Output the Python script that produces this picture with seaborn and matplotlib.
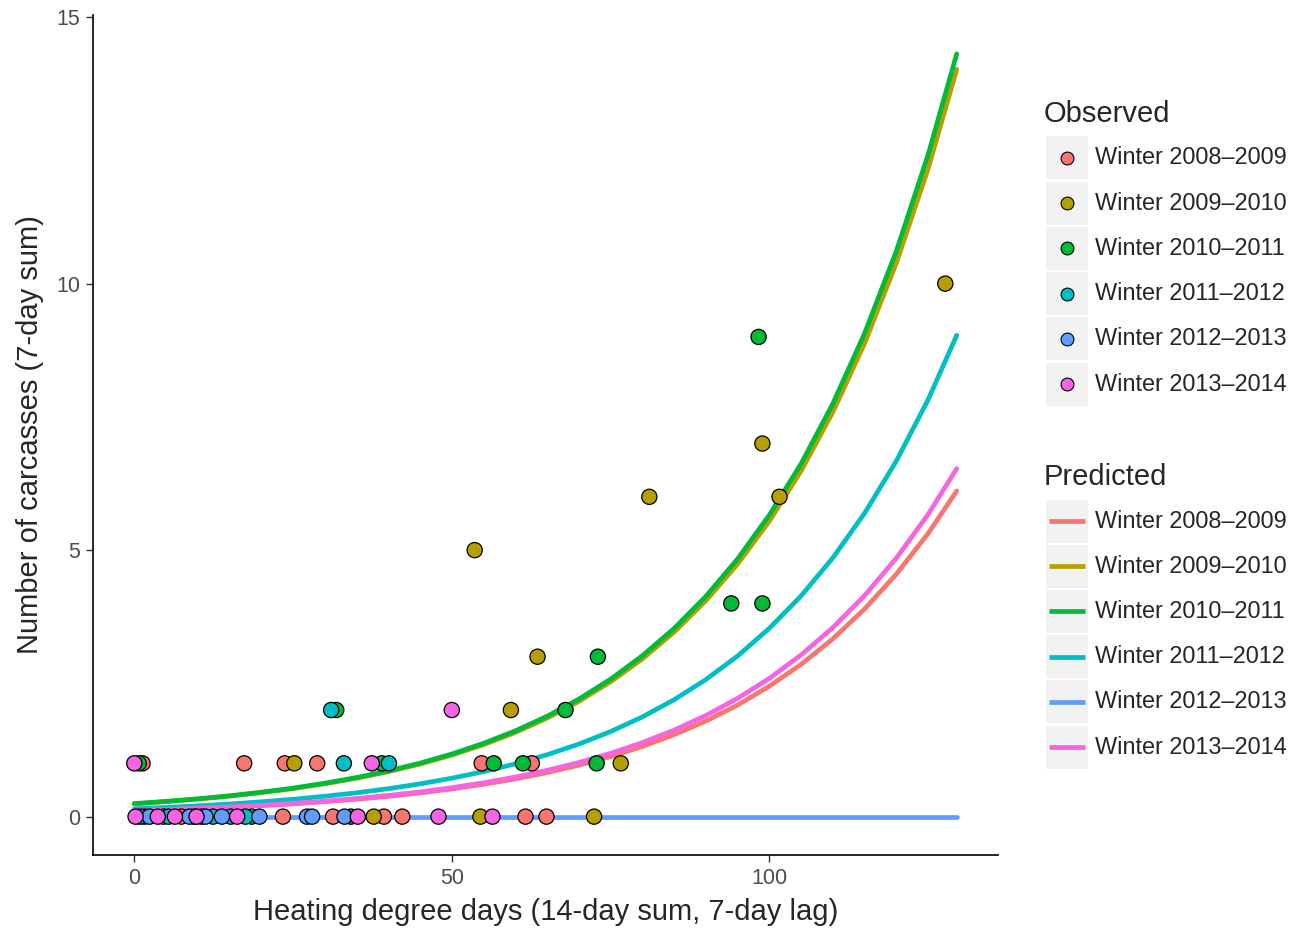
import pandas as pd
import seaborn as sns
import matplotlib.pyplot as plt
from matplotlib.patches import Rectangle

# seasons and ggplot default hue colours
seasons = ['Winter 2008\u20132009', 'Winter 2009\u20132010', 'Winter 2010\u20132011',
           'Winter 2011\u20132012', 'Winter 2012\u20132013', 'Winter 2013\u20132014']
colors = ['#F8766D', '#B79F00', '#00BA38', '#00BFC4', '#619CFF', '#F564E3']

# observed counts: heating degree days, carcasses, season index
obs_x = [0.2, 0.9, 1.6, 2.4, 3.7, 4.6, 5.4, 6.4, 7.4, 8.7, 9.4, 9.8, 10.6, 11.2,
         12.4, 13.8, 15.2, 16.2, 17.5, 18.5, 19.7, 23.4, 27.2, 28.0, 31.3, 33.1,
         34.1, 35.2, 37.7, 39.3, 42.2, 47.9, 54.5, 56.4, 61.6, 64.9, 72.4,
         1.3, 0.7, 0.0, 17.3, 23.7, 25.2, 28.8, 33.0, 37.4, 39.0, 40.1, 54.7,
         56.6, 61.2, 62.6, 72.8, 76.6,
         31.0, 31.8, 50.0, 59.3, 67.9,
         63.5, 73.0, 94.0, 98.9, 53.6, 81.1, 101.6, 98.9, 98.3, 127.7]
obs_y = [0] * 37 + [1] * 17 + [2] * 5 + [3, 3, 4, 4, 5, 6, 6, 7, 9, 10]
obs_s = [5, 3, 2, 4, 5, 1, 3, 5, 0, 4, 2, 5, 3, 4,
         3, 4, 3, 5, 3, 2, 4, 0, 4, 4, 0, 4,
         2, 5, 1, 0, 0, 5, 1, 5, 0, 0, 1,
         0, 2, 5, 0, 0, 1, 0, 3, 5, 2, 3, 0,
         2, 2, 0, 2, 1,
         3, 2, 5, 1, 2,
         1, 2, 2, 2, 1, 1, 1, 1, 2, 1]

# predicted curves
pred_x = [0, 5, 10, 15, 20, 25, 30, 35, 40, 45, 50, 55, 60, 65, 70, 75, 80,
          85, 90, 95, 100, 105, 110, 115, 120, 125, 129.5]
pred_0809 = [0.110, 0.128, 0.150, 0.175, 0.205, 0.239, 0.279, 0.326, 0.380,
             0.444, 0.519, 0.606, 0.707, 0.826, 0.965, 1.127, 1.316, 1.536,
             1.794, 2.095, 2.447, 2.857, 3.336, 3.896, 4.550, 5.313, 6.11]
pred_0910 = [0.240, 0.281, 0.329, 0.384, 0.450, 0.526, 0.616, 0.720, 0.843,
             0.986, 1.154, 1.350, 1.579, 1.848, 2.162, 2.529, 2.959, 3.462,
             4.051, 4.739, 5.545, 6.488, 7.590, 8.881, 10.391, 12.157, 14.02]
pred_1011 = [0.244, 0.286, 0.334, 0.391, 0.458, 0.535, 0.627, 0.733, 0.858,
             1.004, 1.175, 1.375, 1.609, 1.883, 2.204, 2.579, 3.018, 3.531,
             4.132, 4.836, 5.659, 6.622, 7.749, 9.069, 10.612, 12.419, 14.31]
pred_1112 = [0.147, 0.172, 0.202, 0.237, 0.278, 0.325, 0.382, 0.447, 0.524,
             0.615, 0.721, 0.845, 0.990, 1.161, 1.361, 1.596, 1.871, 2.193,
             2.571, 3.014, 3.534, 4.142, 4.856, 5.693, 6.674, 7.824, 9.03]
pred_1213 = [0.0] * 27
pred_1314 = [0.114, 0.133, 0.155, 0.182, 0.212, 0.248, 0.290, 0.340, 0.397,
             0.464, 0.543, 0.635, 0.742, 0.868, 1.015, 1.187, 1.388, 1.623,
             1.897, 2.219, 2.594, 3.033, 3.547, 4.148, 4.850, 5.671, 6.53]


def build_frames():
    obs = pd.DataFrame({'hdd': obs_x, 'count': obs_y,
                        'season': [seasons[i] for i in obs_s]})
    obs['order'] = obs_s
    obs = obs.sort_values('order', kind='stable')
    curves = [pred_0809, pred_0910, pred_1011, pred_1112, pred_1213, pred_1314]
    rows = []
    for name, vals in zip(seasons, curves):
        for x, y in zip(pred_x, vals):
            rows.append({'hdd': x, 'count': y, 'season': name})
    pred = pd.DataFrame(rows)
    return obs, pred


def draw_legend(fig):
    lax = fig.add_axes([0, 0, 1, 1])
    lax.set_xlim(0, 1304)
    lax.set_ylim(930, 0)
    lax.axis('off')
    lax.patch.set_alpha(0)

    def block(title, title_y, first_y, kind):
        lax.text(1044, title_y, title, fontsize=21, va='center', ha='left')
        for i, (name, col) in enumerate(zip(seasons, colors)):
            yc = first_y + i * 45.2
            lax.add_patch(Rectangle((1046, yc - 21.5), 42, 43,
                                    facecolor='#F2F2F2', edgecolor='none'))
            if kind == 'point':
                lax.scatter([1067], [yc], s=85, color=col,
                            edgecolor='black', linewidth=0.8, zorder=3)
            else:
                lax.plot([1049, 1085], [yc, yc], color=col, lw=3.4,
                         solid_capstyle='butt', zorder=3)
            lax.text(1095, yc, name, fontsize=16.9, va='center', ha='left')

    block('Observed', 114, 158, 'point')
    block('Predicted', 477, 521, 'line')


def main():
    obs, pred = build_frames()
    sns.set_style('white')
    plt.rcParams['font.family'] = ['Liberation Sans', 'DejaVu Sans']

    fig = plt.figure(figsize=(13.04, 9.30), dpi=100)
    ax = fig.add_axes([93 / 1304, 75 / 930, 905 / 1304, 840 / 930])

    sns.lineplot(data=pred, x='hdd', y='count', hue='season',
                 hue_order=seasons, palette=colors, linewidth=3.4,
                 legend=False, ax=ax, zorder=2)
    sns.scatterplot(data=obs, x='hdd', y='count', hue='season',
                    hue_order=seasons, palette=colors, s=120,
                    edgecolor='black', linewidth=0.9, legend=False,
                    ax=ax, zorder=3)

    ax.set_xlim(-6.5, 136)
    ax.set_ylim(-0.72, 15.04)
    ax.set_xticks([0, 50, 100])
    ax.set_yticks([0, 5, 10, 15])
    for side in ['top', 'right']:
        ax.spines[side].set_visible(False)
    for side in ['left', 'bottom']:
        ax.spines[side].set_color('black')
        ax.spines[side].set_linewidth(1.2)
    ax.tick_params(axis='both', length=5, width=1, color='#333333',
                   labelsize=15.5, labelcolor='#4D4D4D', pad=4,
                   bottom=True, left=True)
    ax.set_xlabel('Heating degree days (14-day sum, 7-day lag)',
                  fontsize=21, labelpad=7)
    ax.set_ylabel('Number of carcasses (7-day sum)', fontsize=21,
                  labelpad=9)

    draw_legend(fig)
    fig.savefig('out.png', dpi=100)


if __name__ == '__main__':
    main()
